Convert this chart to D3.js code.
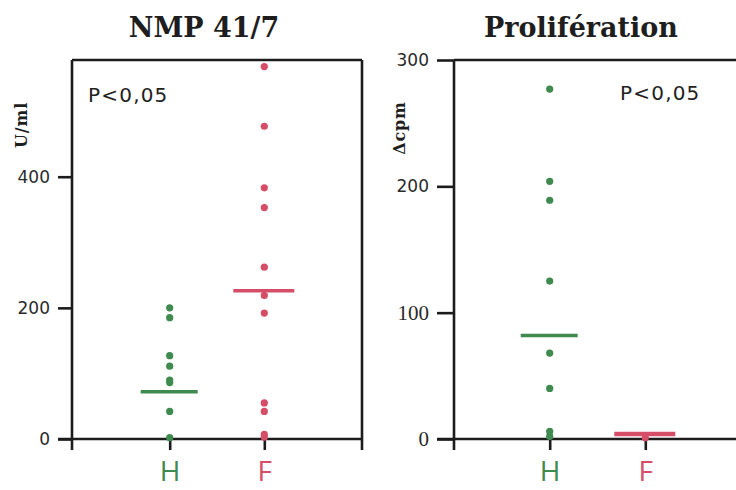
<!DOCTYPE html>
<html>
<head>
<meta charset="utf-8">
<script src="https://cdn.jsdelivr.net/npm/d3@7"></script>
<style>
  html, body { margin: 0; padding: 0; background: #fff; }
  svg { display: block; }
</style>
</head>
<body>
<svg id="chart" width="736" height="490"></svg>
<script>
// Groups shown on each panel
const groups = ["H", "F"];

// NMP 41/7 (U/ml)
const nmpH = [200, 185, 127, 111, 90, 86, 42, 2];
const nmpF = [568, 477, 383, 353, 262, 219, 192, 55, 42, 7, 3];
const nmpCenter = [72, 226];
const nmpTicks = [0, 200, 400];
const nmpMax = 578;

// Prolifération (Δcpm)
const proH = [277, 204, 189, 125, 68, 40, 6, 2];
const proF = [1];
const proCenter = [82, 4];
const proTicks = [0, 100, 200, 300];
const proMax = 300;

const groupColor = { H: "#3f8a4f", F: "#d64d68" };
const ink = "#1c1c1c";

const svg = d3.select("#chart");

function panel(cfg) {
  const g = svg.append("g");
  const y = d3.scaleLinear().domain([0, cfg.max]).range([cfg.bottom, cfg.top]);
  const x = d3.scalePoint().domain(groups).range(cfg.xRange);

  // Frame lines
  const lines = [
    [cfg.frameLeft, cfg.top, cfg.frameLeft, cfg.bottom + 11],
    [cfg.frameLeft, cfg.top, cfg.frameRight, cfg.top],
    [cfg.axisStart, cfg.bottom, cfg.frameRight, cfg.bottom]
  ];
  if (cfg.closeRight) lines.push([cfg.frameRight, cfg.top, cfg.frameRight, cfg.bottom + 11]);
  g.selectAll("line.frame").data(lines).join("line")
    .attr("class", "frame")
    .attr("x1", d => d[0]).attr("y1", d => d[1])
    .attr("x2", d => d[2]).attr("y2", d => d[3])
    .attr("stroke", ink).attr("stroke-width", 2.6);

  // Y axis
  const yAxis = g.append("g")
    .attr("transform", `translate(${cfg.frameLeft},0)`)
    .call(d3.axisLeft(y).tickValues(cfg.ticks).tickSize(cfg.tickLen).tickPadding(cfg.tickPad));
  yAxis.select(".domain").remove();
  yAxis.selectAll(".tick line").attr("stroke", ink).attr("stroke-width", 2.6);
  yAxis.selectAll(".tick text")
    .attr("fill", "#2a2a2a")
    .attr("font-family", d => cfg.serifTicks && cfg.serifTicks.includes(d) ? "Liberation Serif, serif" : "DejaVu Sans, sans-serif")
    .attr("font-size", d => cfg.serifTicks && cfg.serifTicks.includes(d) ? 21 : 17);

  // X axis ticks and group letters
  const xAxis = g.append("g")
    .attr("transform", `translate(0,${cfg.bottom})`)
    .call(d3.axisBottom(x).tickSize(11).tickPadding(11));
  xAxis.select(".domain").remove();
  xAxis.selectAll(".tick line").attr("stroke", ink).attr("stroke-width", 2.6);
  xAxis.selectAll(".tick text")
    .attr("fill", d => groupColor[d])
    .attr("font-family", "Open Sans, sans-serif")
    .attr("font-size", 28)
    .attr("dy", "0.71em");

  // Points
  const pts = [];
  cfg.values.forEach((arr, i) => arr.forEach(v => pts.push({ g: groups[i], v })));
  g.selectAll("circle").data(pts).join("circle")
    .attr("cx", d => x(d.g))
    .attr("cy", d => y(d.v))
    .attr("r", 3.6)
    .attr("fill", d => groupColor[d.g]);

  // Central value bars
  g.selectAll("line.center").data(cfg.center).join("line")
    .attr("class", "center")
    .attr("x1", (d, i) => x(groups[i]) - (i ? 31 : 29))
    .attr("x2", (d, i) => x(groups[i]) + (i ? 30 : 28))
    .attr("y1", d => y(d)).attr("y2", d => y(d))
    .attr("stroke", (d, i) => groupColor[groups[i]])
    .attr("stroke-width", (d, i) => cfg.centerWidth[i]);

  // Title
  g.append("text")
    .attr("x", cfg.titleX).attr("y", 37)
    .attr("text-anchor", "middle")
    .attr("font-family", "DejaVu Serif, serif")
    .attr("font-weight", "bold")
    .attr("font-size", 27)
    .attr("fill", "#1e1e1e")
    .text(cfg.title);

  // Y unit
  g.append("text")
    .attr("transform", `translate(${cfg.unitX},${cfg.unitY}) rotate(-90)`)
    .attr("text-anchor", "middle")
    .attr("font-family", "DejaVu Serif, serif")
    .attr("font-weight", "bold")
    .attr("font-size", 16)
    .attr("letter-spacing", 0.8)
    .attr("fill", "#1e1e1e")
    .text(cfg.unit);

  // Significance
  g.append("text")
    .attr("x", cfg.pX).attr("y", cfg.pY)
    .attr("font-family", "DejaVu Sans, sans-serif")
    .attr("font-size", 20)
    .attr("letter-spacing", 1.2)
    .attr("fill", "#222")
    .text("P<0,05");
}

panel({
  title: "NMP 41/7", titleX: 204,
  unit: "U/ml", unitX: 27, unitY: 125,
  max: nmpMax, ticks: nmpTicks,
  top: 60, bottom: 439,
  frameLeft: 72, frameRight: 362, axisStart: 58, closeRight: true,
  tickLen: 14, tickPad: 8,
  xRange: [169.7, 264.3],
  values: [nmpH, nmpF], center: nmpCenter, centerWidth: [3.5, 3.5],
  pX: 88, pY: 102
});

panel({
  title: "Prolifération", titleX: 581,
  unit: "Δcpm", unitX: 405, unitY: 128,
  max: proMax, ticks: proTicks, serifTicks: [0, 100],
  top: 60, bottom: 439,
  frameLeft: 454, frameRight: 736, axisStart: 437, closeRight: false,
  tickLen: 17, tickPad: 8,
  xRange: [549.7, 645.3],
  values: [proH, proF], center: proCenter, centerWidth: [3.5, 4.5],
  pX: 620, pY: 100
});
</script>
</body>
</html>
